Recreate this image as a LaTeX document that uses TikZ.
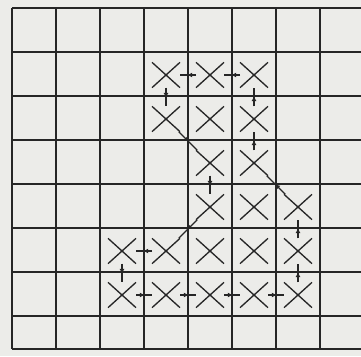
\documentclass[tikz,border=0pt]{standalone}
\usepackage{tikz}
\usetikzlibrary{arrows.meta,shapes.misc,decorations.markings}
\definecolor{WsInk}{RGB}{38,38,38}
\definecolor{WsPaper}{RGB}{236,236,233}
\tikzset{
  ws/grid/.style={draw=WsInk, line width=0.06cm},
  ws/cross/.style={
    cross out,
    draw=WsInk,
    line width=0.04cm,
    minimum width=0.8cm,
    minimum height=0.72cm,
    inner sep=0pt
  },
  ws/link/.style={
    draw=WsInk,
    line width=0.035cm,
    postaction={decorate},
    decoration={markings,
      mark=at position 0.55 with {\arrow{Latex[length=1.5mm,width=1.5mm]}}}
  }
}
\begin{document}
\begin{tikzpicture}[x=0.03cm,y=0.03cm]
  \useasboundingbox (0,0) rectangle (361,-356);
  \fill[WsPaper] (0,0) rectangle (361,-356);
  \clip (0,0) rectangle (361,-356);
  % the grid
  \foreach \c in {0,...,7}
    \draw[ws/grid] ({12+44*\c},-8) -- ({12+44*\c},-349);
  \foreach \r in {0,...,7}
    \draw[ws/grid] (12,{-8-44*\r}) -- (361,{-8-44*\r});
  \draw[ws/grid] (12,-349) -- (361,-349);
  % the crosses
  \foreach \c/\r in {3/1,4/1,5/1, 3/2,4/2,5/2, 4/3,5/3, 4/4,5/4,6/4,
                     2/5,3/5,4/5,5/5,6/5, 2/6,3/6,4/6,5/6,6/6}
    \node[ws/cross] (x\c\r) at ({34+44*\c},{-31-44*\r}) {};
  % the tour
  \draw[ws/link] (x26) -- (x36);
  \draw[ws/link] (x36) -- (x46);
  \draw[ws/link] (x46) -- (x56);
  \draw[ws/link] (x56) -- (x66);
  \draw[ws/link] (x66) -- (x65);
  \draw[ws/link] (x65) -- (x64);
  \draw[ws/link] (x64) -- (x53);
  \draw[ws/link] (x53) -- (x52);
  \draw[ws/link] (x52) -- (x51);
  \draw[ws/link] (x51) -- (x41);
  \draw[ws/link] (x41) -- (x31);
  \draw[ws/link] (x31) -- (x32);
  \draw[ws/link] (x32) -- (x43);
  \draw[ws/link] (x43) -- (x44);
  \draw[ws/link] (x44) -- (x35);
  \draw[ws/link] (x35) -- (x25);
  \draw[ws/link] (x25) -- (x26);
\end{tikzpicture}
\end{document}
